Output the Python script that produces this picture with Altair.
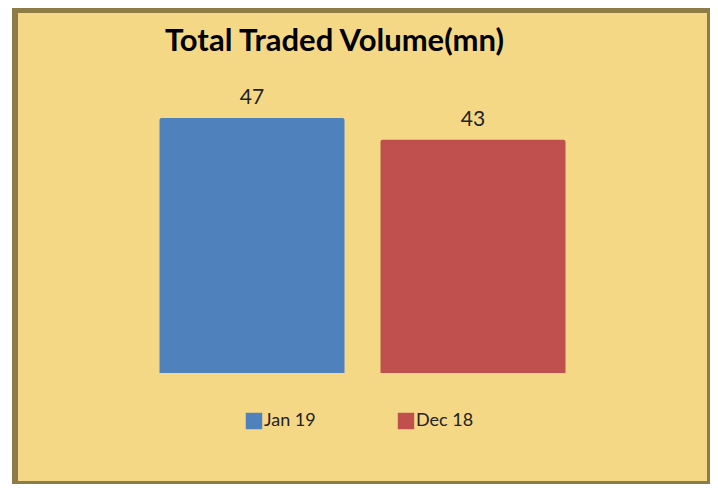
import altair as alt
import pandas as pd

categories = ["Jan 19", "Dec 18"]
values = [47, 43]
colors = ["#4F81BD", "#C0504D"]

df = pd.DataFrame({"period": categories, "volume": values})

FONT = "Lato"

x_enc = alt.X("period:N", sort=categories, axis=None,
              scale=alt.Scale(paddingInner=0.163, paddingOuter=0.654))
y_enc = alt.Y("volume:Q", axis=None,
              scale=alt.Scale(domain=[-20.46, 66.91], nice=False, zero=False))

bars = alt.Chart(df).mark_bar(cornerRadiusTopLeft=2, cornerRadiusTopRight=2).encode(
    x=x_enc,
    y=y_enc,
    y2=alt.datum(0),
    color=alt.Color("period:N", sort=categories,
                    scale=alt.Scale(domain=categories, range=colors),
                    legend=alt.Legend(title=None, orient="none", direction="horizontal",
                                      legendX=230, legendY=402,
                                      symbolType="square", symbolSize=270,
                                      symbolStrokeWidth=0, symbolOpacity=1,
                                      labelFont=FONT, labelFontSize=18,
                                      labelColor="#222222", labelOffset=1,
                                      columnPadding=81, padding=0)),
)

labels = alt.Chart(df).mark_text(baseline="alphabetic", dy=-14, font=FONT,
                                 fontSize=21, color="#222222").encode(
    x=alt.X("period:N", sort=categories),
    y=alt.Y("volume:Q"),
    text=alt.Text("volume:Q"),
)

chart = alt.layer(bars, labels).properties(
    width=695,
    height=474,
    padding={"left": 7, "top": 2, "right": 0, "bottom": 0},
    autosize=alt.AutoSizeParams(type="none"),
    background="#ffffff",
    title=alt.TitleParams("Total Traded Volume(mn)", anchor="start", frame="group",
                          orient="top", offset=0, dx=150, dy=72,
                          baseline="alphabetic",
                          font=FONT, fontSize=31, fontWeight="bold", color="#000000"),
).configure_view(
    fill="#F4D886",
    stroke="#8E7C47",
    strokeWidth=6,
)

chart.save("out.html", embed_options={"renderer": "svg", "actions": False})
